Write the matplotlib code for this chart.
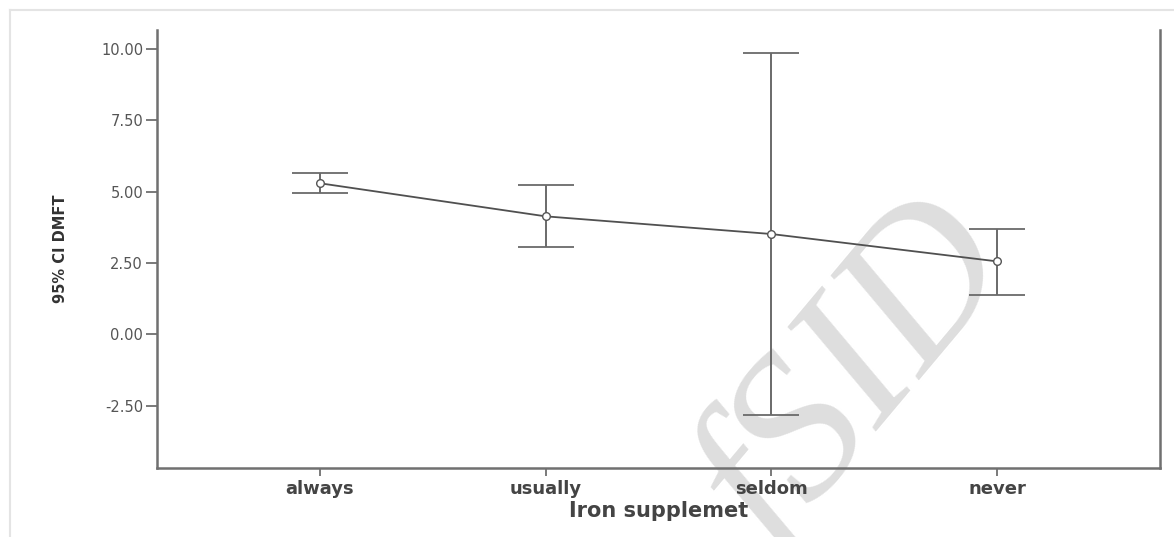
import matplotlib
matplotlib.use("Agg")
import matplotlib.pyplot as plt
from matplotlib.lines import Line2D
import numpy as np

# group means of DMFT with 95% confidence limits
groups = ["always", "usually", "seldom", "never"]
means = [5.30, 4.14, 3.52, 2.56]
ci_low = [4.95, 3.06, -2.82, 1.40]
ci_high = [5.65, 5.23, 9.86, 3.71]
yticks = [-2.50, 0.00, 2.50, 5.00, 7.50, 10.00]

fig = plt.figure(figsize=(11.74, 5.37), dpi=100)
ax = fig.add_axes([157/1174, 1-468/537, (1160-157)/1174, (468-30)/537])

x = np.arange(len(groups))
means = np.array(means)
lo = means - np.array(ci_low)
hi = np.array(ci_high) - means

ax.errorbar(x, means, yerr=[lo, hi], fmt='none', ecolor='#6a6a6a',
            elinewidth=1.4, capsize=20, capthick=1.3, zorder=2)
ax.plot(x, means, '-', color='#505050', lw=1.3, zorder=3)
ax.plot(x, means, 'o', mfc='white', mec='#555555', mew=1.0, ms=5.5, zorder=4)

ax.set_xlim(-0.72, 3.72)
ax.set_ylim(-4.68, 10.67)
ax.set_xticks(x)
ax.set_xticklabels(groups, fontsize=13, fontweight='bold', color='#444444')
ax.set_yticks(yticks)
ax.set_yticklabels(["%.2f" % v for v in yticks], fontsize=10.5, color='#555555')

for side in ['left', 'bottom', 'right']:
    ax.spines[side].set_color('#707070')
    ax.spines[side].set_linewidth(1.8)
ax.spines['top'].set_visible(False)
ax.tick_params(axis='y', length=8, width=1.3, color='#707070', pad=2)
ax.tick_params(axis='x', length=6, width=1.3, color='#707070', pad=3)

ax.set_xlabel("Iron supplemet", fontsize=15, fontweight='bold', color='#444444', labelpad=2)
ax.set_ylabel("95% CI DMFT", fontsize=10.5, fontweight='bold', color='#333333')
ax.yaxis.set_label_coords(-0.089, 0.50)

# light page border
fig.add_artist(Line2D([10/1174, 1], [1-10/537, 1-10/537], color='#e4e4e4', lw=1.5))
fig.add_artist(Line2D([10/1174, 10/1174], [0, 1-10/537], color='#e4e4e4', lw=1.5))

# watermark, kept underneath the plotted marks
ax.text(856/1174, 1-374/537, "fSID", fontsize=148, family='Liberation Serif',
        style='italic', color='#dedede', rotation=50, ha='center', va='center',
        zorder=0, transform=fig.transFigure, clip_on=False)

fig.savefig("out.png", dpi=100)
